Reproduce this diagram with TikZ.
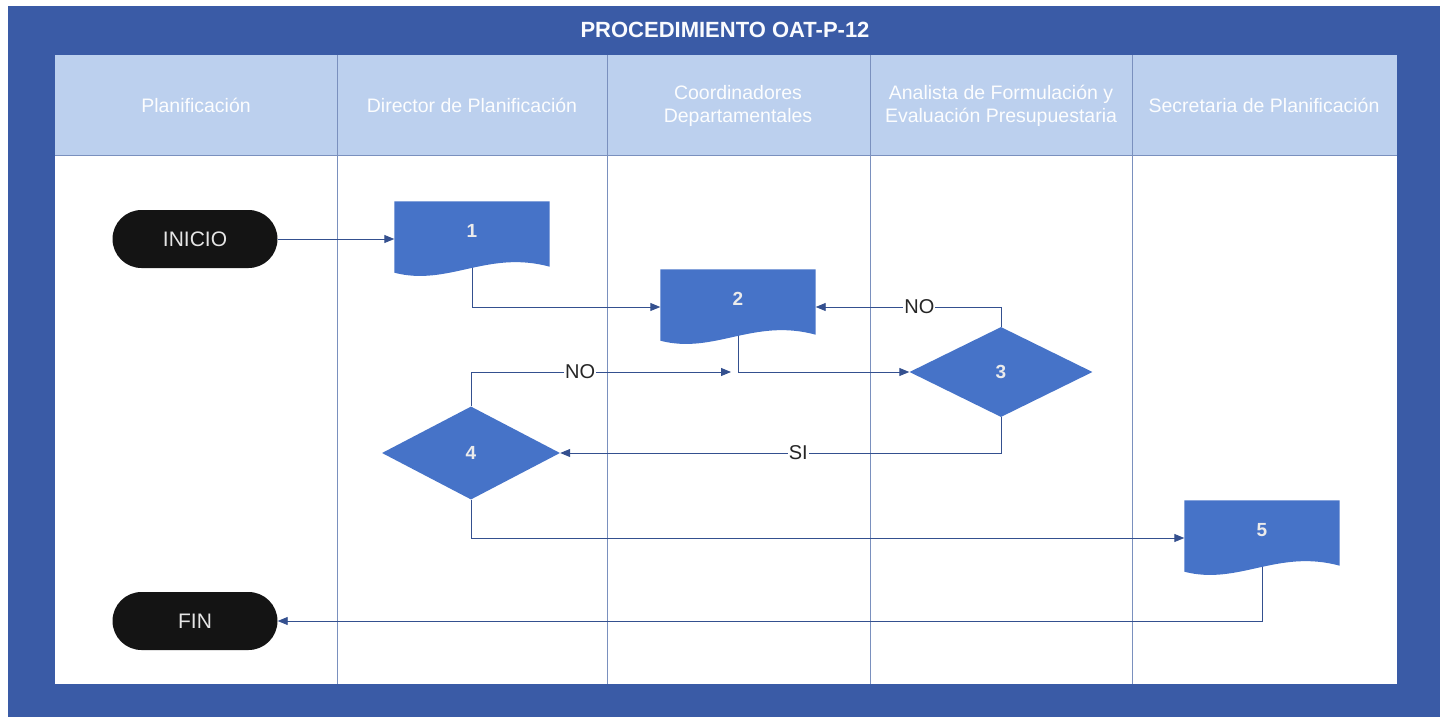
\documentclass[tikz,border=0pt]{standalone}
\usepackage{fontspec}
\setmainfont{Liberation Sans}
\usetikzlibrary{shapes.geometric,arrows.meta,calc}
\pgfdeclarelayer{bg}
\pgfdeclarelayer{conn}
\pgfdeclarelayer{shapes}
\pgfsetlayers{bg,conn,shapes,main}
\definecolor{frameblue}{HTML}{3A5BA6}
\definecolor{headblue}{HTML}{BCD0EE}
\definecolor{shapeblue}{HTML}{4673C8}
\definecolor{lineblue}{HTML}{7A90BE}
\definecolor{connblue}{HTML}{34508F}
\definecolor{termblack}{HTML}{141414}
\tikzset{
  terminal/.style={fill=termblack, rounded corners=29pt, minimum width=165pt, minimum height=58pt,
    inner sep=0pt, text=white!90!black, font=\fontsize{21}{24}\selectfont},
  docnode/.style={rectangle, minimum width=155pt, minimum height=75pt, inner sep=0pt,
    label={[docnum]center:#1}},
  docnum/.style={text=white!92!black, font=\bfseries\fontsize{19}{22}\selectfont, yshift=8pt},
  decision/.style={diamond, fill=shapeblue, inner sep=0pt, text=white!92!black,
    font=\bfseries\fontsize{19}{22}\selectfont},
  headtext/.style={text=white!96!headblue, font=\fontsize{19.5}{23}\selectfont, align=center},
  lane/.style={lineblue, line width=0.9pt},
  conn/.style={connblue, line width=0.9pt, -{Triangle[length=10pt,width=8pt]}},
  condlabel/.style={fill=white, inner sep=1pt, text=black!85, font=\fontsize{20}{24}\selectfont},
}
\newcommand\docwave[1]{%
  \begin{pgfonlayer}{shapes}
  \fill[shapeblue] (#1.north west) -- (#1.north east) -- ($(#1.south east)+(0,-10)$)
    .. controls ($(#1.south west)+(93,-27)$) and ($(#1.south west)+(54,10)$) ..
    ($(#1.south west)+(0,-4)$) -- cycle;
  \end{pgfonlayer}}
\begin{document}
\begin{tikzpicture}[x=1pt,y=-1pt]
\useasboundingbox (0,0) rectangle (1445,717);
\begin{pgfonlayer}{bg}
  \fill[frameblue] (8,6) rectangle (1440,717);
  \fill[white] (55,55) rectangle (1397,684);
  \fill[headblue] (55,55) rectangle (1397,155);
  \draw[lane] (55,155) -- (1397,155);
  \foreach \lx in {337,607,870,1132} \draw[lane] (\lx,55) -- (\lx,684);
\end{pgfonlayer}
\node (title) at (725,30) {\color{white!92!headblue}\bfseries\fontsize{22}{25}\selectfont PROCEDIMIENTO OAT-P-12};
\node[headtext] (h1) at (196,105) {Planificación};
\node[headtext] (h2) at (472,105) {Director de Planificación};
\node[headtext] (h3) at (738,106) {Coordinadores\\Departamentales};
\node[headtext] (h4) at (1001,106) {Analista de Formulación y\\Evaluación Presupuestaria};
\node[headtext] (h5) at (1264,105) {Secretaria de Planificación};

\node[terminal] (inicio) at (195,239) {INICIO};
\node[terminal] (fin) at (195,621) {FIN};

\node[docnode=1] (d1) at (472,239) {};
\docwave{d1}
\node[docnode=2] (d2) at (738,307) {};
\docwave{d2}
\node[docnode=5] (d5) at (1262,538) {};
\docwave{d5}

\node[decision, minimum width=183pt, minimum height=90pt] (d3) at (1001,372) {3};
\node[decision, minimum width=178pt, minimum height=93pt] (d4) at (471,453) {4};

\coordinate (join) at (731,372);

\begin{pgfonlayer}{conn}
  \draw[conn] (inicio.east) -- (d1.west);
  \draw[conn] (d1.center) |- (d2.west);
  \draw[conn] (d2.center) |- (d3.west);
  \draw[conn] (d3.north) |- (d2.east) node[condlabel, pos=0.72] {NO};
  \draw[conn] (d3.south) |- (d4.east) node[condlabel, pos=0.73] {SI};
  \draw[conn] (d4.north) |- (join) node[condlabel, pos=0.71] {NO};
  \draw[conn] (d4.south) |- (d5.west);
  \draw[conn] (d5.center) |- (fin.east);
\end{pgfonlayer}
\end{tikzpicture}
\end{document}
